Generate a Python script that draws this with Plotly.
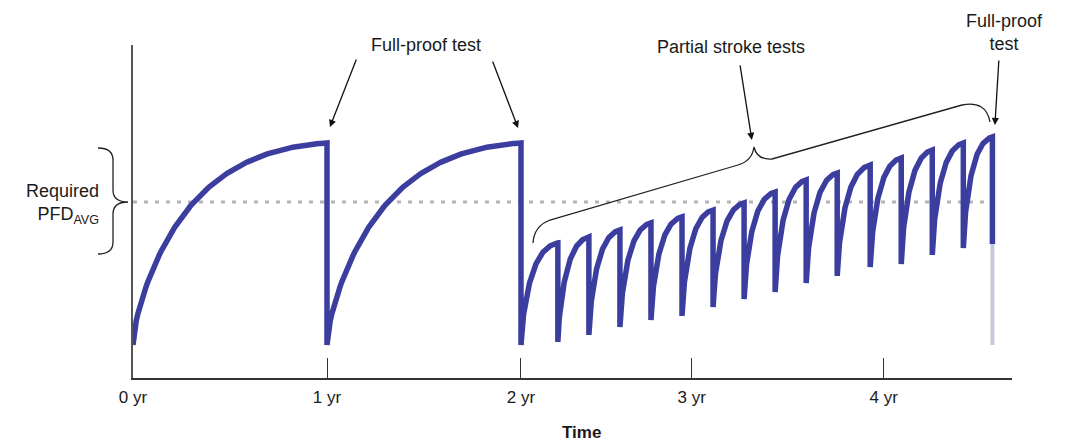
import numpy as np
import plotly.graph_objects as go

# ---------------- data ----------------
# each rising segment of the PFD curve: start time, end time (test), level after previous test, level just before test
segment_start = [0.0, 1.0, 2.0, 2.19, 2.35, 2.51, 2.67, 2.83, 2.99, 3.15, 3.31, 3.47, 3.63, 3.80, 3.96, 4.12, 4.28]
segment_end = [1.0, 2.0, 2.19, 2.35, 2.51, 2.67, 2.83, 2.99, 3.15, 3.31, 3.47, 3.63, 3.80, 3.96, 4.12, 4.28, 4.43]
start_level = [0.0, 0.0, 0.0, 0.015, 0.050, 0.089, 0.124, 0.144, 0.188, 0.228, 0.262, 0.307, 0.342, 0.386, 0.401, 0.446, 0.480]
peak_level = [1.0, 1.0, 0.505, 0.535, 0.569, 0.604, 0.634, 0.668, 0.703, 0.757, 0.817, 0.851, 0.891, 0.926, 0.965, 1.0, 1.03]
final_partial_level = 0.50   # blue drop at the last test ends here
final_reset_level = 0.0      # grey part of the last full-proof test
required_pfd_avg = 0.708
tick_years = [0, 1, 2, 2.88, 3.87]
tick_labels = ["0 yr", "1 yr", "2 yr", "3 yr", "4 yr"]

# ---------------- layout geometry (screen pixels; page body has an 8px margin) ----------------
W, H = 1068, 442
OFF = 8
PLOT_L, PLOT_R, PLOT_T, PLOT_B = 133, 1012, 45, 378
L, T = PLOT_L - OFF, PLOT_T - OFF
R, B = W + OFF - PLOT_R, H + OFF - PLOT_B
PW, PH = PLOT_R - PLOT_L, PLOT_B - PLOT_T
X_RANGE = [0, 4.531]
Y_RANGE = [-0.1634, 1.4851]

def pxx(px):
    return (px - PLOT_L) / PW

def pxy(py):
    return (PLOT_B - py) / PH

def path_px(cmds):
    out = []
    for c in cmds:
        if isinstance(c, str):
            out.append(c)
        else:
            out.append(f"{pxx(c[0]):.5f},{pxy(c[1]):.5f}")
    return " ".join(out)

# ---------------- build curve ----------------
def rise(u, k=3.5, w=0.5):
    circ = np.sqrt(1 - (1 - u) ** 2)
    ex = (1 - np.exp(-k * u)) / (1 - np.exp(-k))
    return w * circ + (1 - w) * ex

xs, ys = [], []
for t0, t1, s, p in zip(segment_start, segment_end, start_level, peak_level):
    u = np.linspace(0, 1, 120)
    f = rise(u)
    xs.extend(list(t0 + u * (t1 - t0)))
    ys.extend(list(s + (p - s) * f))
xs.append(segment_end[-1])
ys.append(final_partial_level)

line_color = "#3b3d9f"
fig = go.Figure()

fig.add_trace(go.Scatter(
    x=[0.0, segment_end[-1] - 0.01], y=[required_pfd_avg, required_pfd_avg],
    mode="lines", line=dict(color="#b4b4b4", width=3, dash="4px,7px"),
    hoverinfo="skip", showlegend=False))

fig.add_trace(go.Scatter(
    x=[segment_end[-1], segment_end[-1]], y=[final_partial_level, final_reset_level],
    mode="lines", line=dict(color="#c6cad8", width=4),
    hoverinfo="skip", showlegend=False))

fig.add_trace(go.Scatter(
    x=xs, y=ys, mode="lines", line=dict(color=line_color, width=5.5),
    hoverinfo="skip", showlegend=False))

FONT = "Liberation Sans, Arial, sans-serif"
txt = "#1a1a1a"
FS = 18

def label(text, x, y, **kw):
    d = dict(text=text, x=pxx(x), y=pxy(y), xref="paper", yref="paper",
             xanchor="center", yanchor="middle", showarrow=False,
             font=dict(size=FS, color=txt, family=FONT))
    d.update(kw)
    return d

annotations = [
    label("Full-proof test", 426, 45),
    label("Partial stroke tests", 731, 47),
    label("Full-proof<br>test", 1004, 32),
    label("Required<br>PFD<sub>AVG</sub>", 101, 204, xanchor="right", align="right"),
    label("<b>Time</b>", 581, 432, font=dict(size=17, color=txt, family=FONT)),
]
# arrows (tip at the tests)
for tip_t, tip_v, ax, ay in [(1.015, 1.079, 27, -69), (1.985, 1.074, -26, -68),
                             (3.19, 1.015, -12, -76), (4.443, 1.089, 4, -66)]:
    annotations.append(dict(x=tip_t, y=tip_v, xref="x", yref="y", ax=ax, ay=ay, text="",
                            showarrow=True, arrowhead=2, arrowsize=1.1, arrowwidth=1.3,
                            arrowcolor="#111"))

shapes = [
    # left brace for required PFD_AVG
    dict(type="path", xref="paper", yref="paper", line=dict(color="#222", width=1.3),
         path=path_px(["M", (98, 148), "Q", (113, 148), (113, 160), "L", (113, 190),
                       "Q", (113, 202), (128, 202), "Q", (113, 202), (113, 214),
                       "L", (113, 242), "Q", (113, 254), (98, 254)])),
    # brace over partial stroke tests
    dict(type="path", xref="paper", yref="paper", line=dict(color="#222", width=1.3),
         path=path_px(["M", (533, 243), "Q", (534, 226), (550, 220), "L", (738, 165),
                       "Q", (752, 161), (754, 147), "Q", (757, 160), (772, 159),
                       "L", (962, 105), "Q", (986, 100), (990, 122)])),
]

fig.update_layout(
    width=W, height=H, margin=dict(l=L, r=R, t=T, b=B),
    paper_bgcolor="white", plot_bgcolor="white",
    annotations=annotations, shapes=shapes, showlegend=False,
    xaxis=dict(range=X_RANGE, showgrid=False, zeroline=False, showline=True,
               linecolor="#333", linewidth=1.5, ticks="inside", ticklen=20,
               tickwidth=1.2, tickcolor="#333", tickvals=tick_years, ticktext=tick_labels,
               tickfont=dict(size=17, color=txt, family=FONT), ticklabelstandoff=3),
    yaxis=dict(range=Y_RANGE, showgrid=False, zeroline=False, showline=True,
               linecolor="#555", linewidth=1.5, showticklabels=False, ticks=""),
)

fig.write_html("out.html")
